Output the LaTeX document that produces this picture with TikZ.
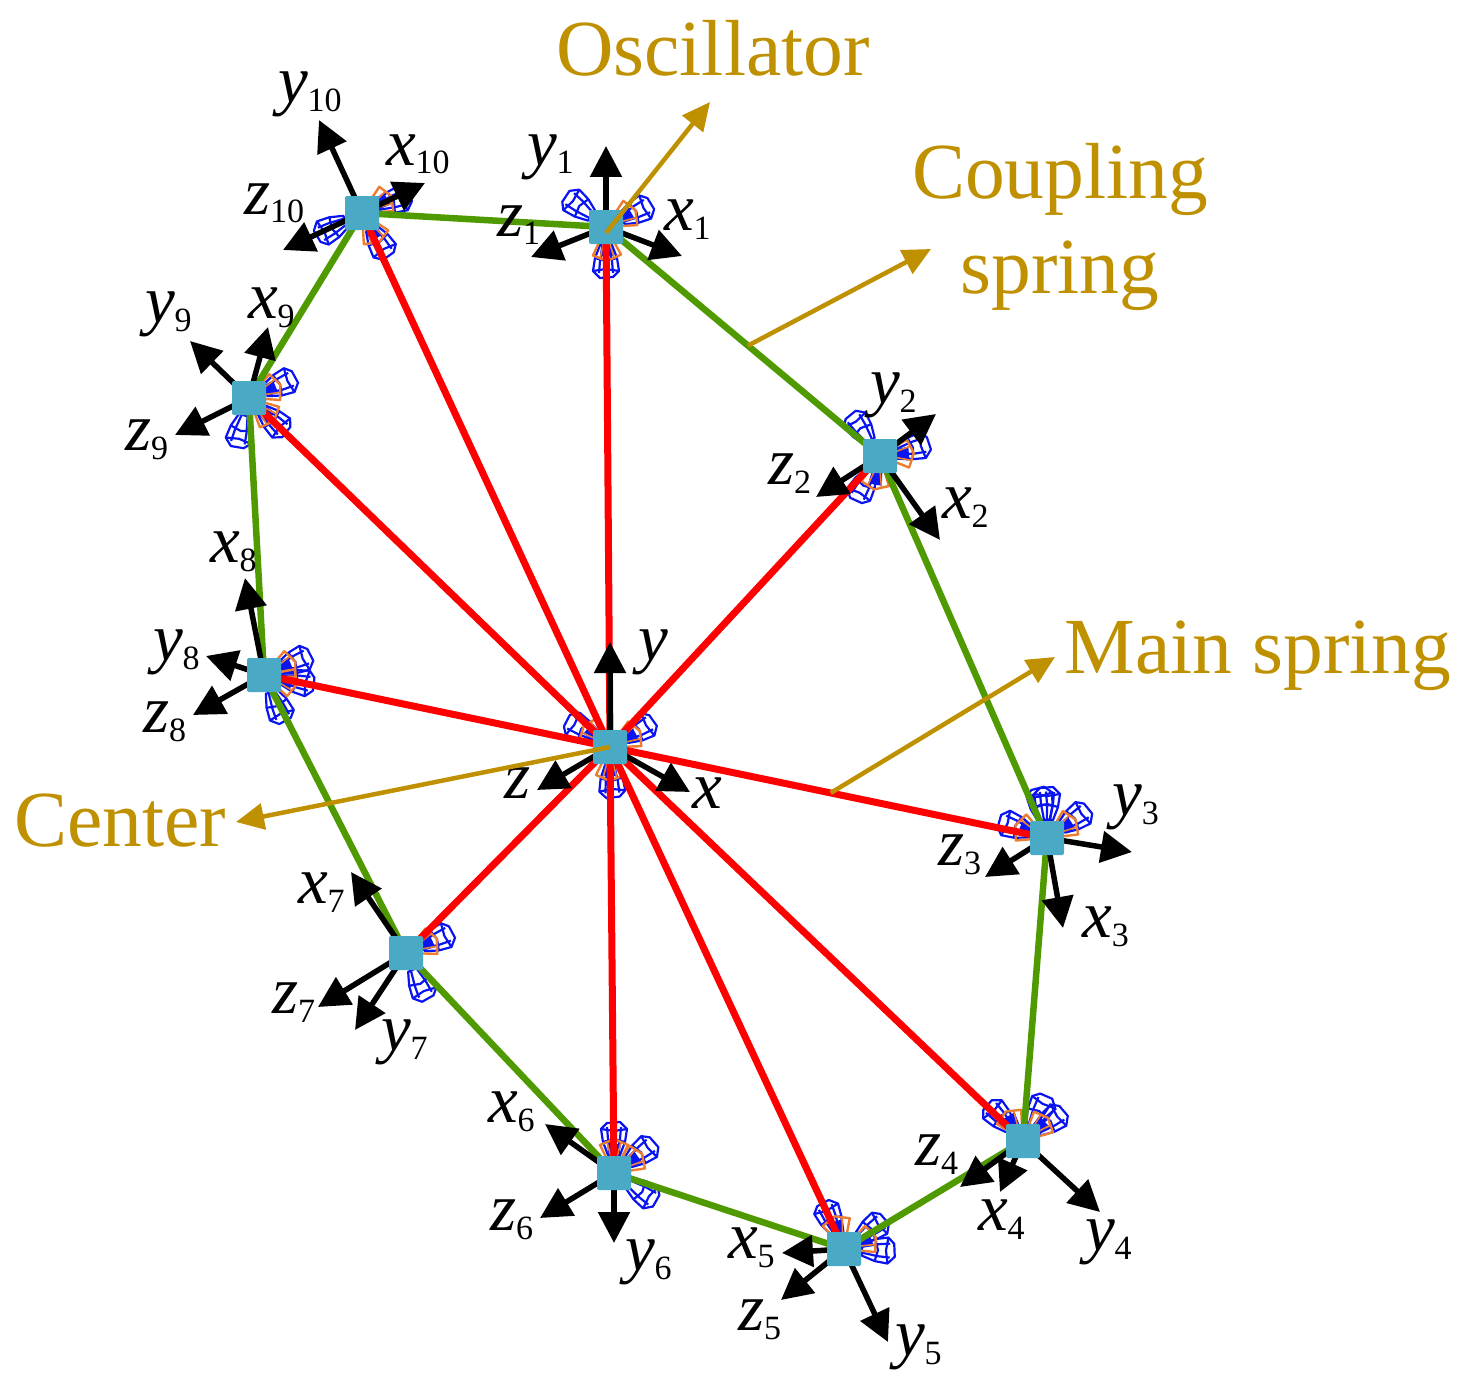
\documentclass[tikz,border=0pt]{standalone}
\usepackage{fontspec}
\setmainfont{Liberation Serif}
\usetikzlibrary{arrows.meta,calc,backgrounds}
\definecolor{gold}{HTML}{BF9000}
\definecolor{sqc}{HTML}{4AA9C4}
\definecolor{grn}{HTML}{4F9A00}
\definecolor{org}{HTML}{ED7D31}
\definecolor{wire}{HTML}{0A14F0}
\newcommand{\lab}[2]{{\fontsize{67}{67}\selectfont\itshape #1\raisebox{-9pt}{\fontsize{34}{34}\selectfont\upshape #2}}}
\newcommand{\bigt}[1]{{\fontsize{79.5}{79.5}\selectfont #1}}
\newcommand{\cage}[2]{% node, angle
  \begin{scope}[shift={(#1.center)},rotate=#2,line width=2.2pt,draw=wire,line join=round]
    \draw (18,-6) -- (31,-11) -- (44,-13) -- (50,-7) -- (51,6) -- (44,13) -- (31,11) -- (18,6) -- cycle;
    \draw (31,-11) -- (34,0) -- (31,11) (44,-13) -- (42,0) -- (44,13);
    \draw (18,-3) -- (34,-6) -- (46,-7) (18,3) -- (34,6) -- (46,7);
  \end{scope}}
\newcommand{\cone}[2]{% node, angle
  \begin{scope}[shift={(#1.center)},rotate=#2,line join=round]
    \fill[wire] (15,-5) -- (29,-7) -- (29,7) -- (15,5) -- cycle;
    \draw[draw=org,line width=2.4pt] (14,-7) -- (28,-14) -- (34,0) -- (28,14) -- (14,7);
    \draw[draw=org,line width=1.6pt] (16,-3) -- (31,-7) (16,3) -- (31,7);
  \end{scope}}
\tikzset{
  mass/.style={draw=none,fill=sqc,rounded corners=2pt,minimum size=34pt,inner sep=0pt,outer sep=0pt},
  lbl/.style={anchor=base west,inner sep=0pt,outer sep=0pt},
  ttl/.style={anchor=base,inner sep=0pt,outer sep=0pt,text=gold},
  greenline/.style={draw=grn,line width=6.5pt},
  redline/.style={draw=red,line width=7pt},
  axis/.style={draw=black,line width=5.5pt,-{Triangle[length=31pt,width=31pt]}},
  leader/.style={draw=gold,line width=4.5pt,-{Triangle[length=28pt,width=26pt]}}
}
\begin{document}
\begin{tikzpicture}[x=1pt,y=-1pt]
\useasboundingbox (0,0) rectangle (1465,1394);
% masses
\foreach \n/\px/\py in {c/610/747,n1/606/227,n2/880/456,n3/1047/838,n4/1023/1141,n5/844/1249,n6/614/1173,n7/406/953,n8/264/675,n9/249/398,n10/362/213}
  \node[mass] (\n) at (\px,\py) {};
% free ends of axes
\foreach \n/\px/\py in {cy/610/642,cx/690/792,cz/537/790,
 a1y/606/146,a1x/682/256,a1z/531/257,
 a2y/936/414,a2x/940/540,a2z/816/497,
 a3y/1132/852,a3x/1063/928,a3z/985/877,
 a4y/1100/1212,a4x/1000/1192,a4z/960/1187,
 a5y/888/1342,a5x/782/1253,a5z/781/1300,
 a6y/614/1243,a6x/545/1124,a6z/540/1218,
 a7y/355/1030,a7x/351/872,a7z/318/1007,
 a8y/206/656,a8x/245/578,a8z/193/715,
 a9y/190/341,a9x/268/327,a9z/175/435,
 a10y/319/120,a10x/425/183,a10z/283/250,
 lo/710/102,lc/931/249,lm/1055/657,lk/236/822}
  \coordinate (\n) at (\px,\py);
\coordinate (sc) at ($(n1.center)!0.518!(n2.center)$);
\coordinate (sm) at ($(c.center)!0.505!(n3.center)$);
% labels
\foreach \t/\s/\px/\py/\n in {y/10/278/103/ly10,x/10/386/165/lx10,z/10/244/214/lz10,
 y/1/527/165/ly1,x/1/664/230/lx1,z/1/497/236/lz1,
 y/2/870/403/ly2,x/2/942/518/lx2,z/2/768/484/lz2,
 y/3/1112/815/ly3,x/3/1082/937/lx3,z/3/938/865/lz3,
 y/4/1085/1250/ly4,x/4/978/1230/lx4,z/4/915/1165/lz4,
 y/5/895/1355/ly5,x/5/728/1258/lx5,z/5/738/1330/lz5,
 y/6/625/1270/ly6,x/6/488/1122/lx6,z/6/490/1230/lz6,
 y/7/381/1050/ly7,x/7/298/903/lx7,z/7/272/1013/lz7,
 y/8/153/660/ly8,x/8/210/562/lx8,z/8/143/732/lz8,
 y/9/145/322/ly9,x/9/248/318/lx9,z/9/125/450/lz9,
 y//638/660/ly0,x//692/808/lx0,z//504/798/lz0}
  \node[lbl] (\n) at (\px,\py) {\lab{\t}{\s}};
\node[ttl] (tosc) at (713,76) {\bigt{Oscillator}};
\node[ttl] (tcp1) at (1060,198) {\bigt{Coupling}};
\node[ttl] (tcp2) at (1060,293) {\bigt{spring}};
\node[ttl] (tmain) at (1258,673) {\bigt{Main spring}};
\node[ttl] (tcen) at (120,846) {\bigt{Center}};
\begin{pgfonlayer}{background}
% oscillators
\foreach \n/\a in {n1/142,n1/27,n1/-90,c/148,c/31,c/-87,
  n2/125,n2/14,n2/-119,n3/90,n3/100,n3/35,n3/160,
  n4/134,n4/62,n4/36,n5/114,n5/36,n5/-2,
  n6/90,n6/37,n6/-34,n7/24,n7/-65,n8/23,n8/-11,n8/-66,
  n9/24,n9/-43,n9/-104,n10/20,n10/207,n10/-59}
  {\cage{\n}{\a}}
\foreach \n/\a in {n1/30,n1/-88,c/140,c/28,c/-90,n2/5,n2/-100,n3/33,n3/158,
  n4/120,n4/43,n5/106,n5/21,n6/90,n6/35,n7/25,n8/23,n8/-16,n9/23,n9/-43,n10/30,n10/-60}
  {\cone{\n}{\a}}
% springs
\foreach \p/\q in {n1/n2,n2/n3,n3/n4,n4/n5,n5/n6,n6/n7,n7/n8,n8/n9,n9/n10,n10/n1}
  \draw[greenline] (\p.center) -- (\q.center);
\foreach \q in {n1,n2,n3,n4,n5,n6,n7,n8,n9,n10}
  \draw[redline] (c.center) -- (\q.center);
% axes
\foreach \n/\e in {c/cy,c/cx,c/cz,n1/a1y,n1/a1x,n1/a1z,n2/a2y,n2/a2x,n2/a2z,n3/a3y,n3/a3x,n3/a3z,
  n4/a4y,n4/a4x,n4/a4z,n5/a5y,n5/a5x,n5/a5z,n6/a6y,n6/a6x,n6/a6z,n7/a7y,n7/a7x,n7/a7z,
  n8/a8y,n8/a8x,n8/a8z,n9/a9y,n9/a9x,n9/a9z,n10/a10y,n10/a10x,n10/a10z}
  \draw[axis] (\n.center) -- (\e);
\end{pgfonlayer}
% leaders
\draw[leader] ([yshift=-6pt]n1.center) -- (lo);
\draw[leader] (sc) -- (lc);
\draw[leader] (sm) -- (lm);
\draw[leader] (c.center) -- (lk);
\end{tikzpicture}
\end{document}
